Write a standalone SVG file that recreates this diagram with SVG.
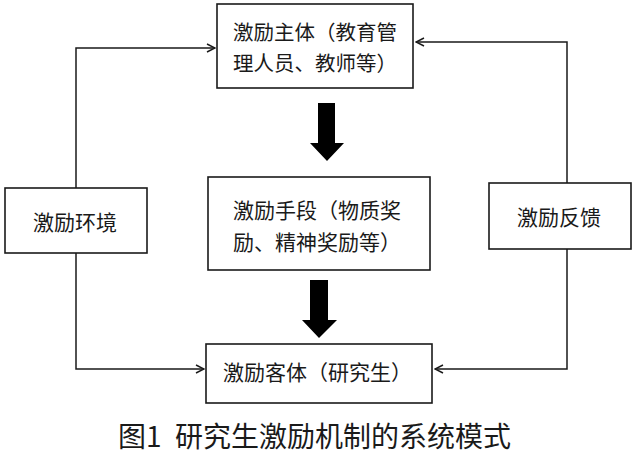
<svg xmlns="http://www.w3.org/2000/svg" width="640" height="456" viewBox="0 0 640 456">
<style>
.box{fill:#fff;stroke:#1a1a1a;stroke-width:1.6}
.t{font-family:"Noto Sans CJK SC","Noto Sans",sans-serif;font-size:21px;fill:#1a1a1a}
.ln{fill:none;stroke:#1a1a1a;stroke-width:1.5}
.fat{fill:#000}
</style>
<defs>
<marker id="ah" markerWidth="10" markerHeight="10" refX="9" refY="5" orient="auto" markerUnits="userSpaceOnUse">
<path d="M1,1 L9,5 L1,9" fill="none" stroke="#1a1a1a" stroke-width="1.5"/>
</marker>
</defs>
<rect width="640" height="456" fill="#fff"/>
<g id="connectors">
<polyline class="ln" points="76,188 76,48 215,48" marker-end="url(#ah)"/>
<polyline class="ln" points="76,253 76,369 204,369" marker-end="url(#ah)"/>
<polyline class="ln" points="567,183 567,42 416,42" marker-end="url(#ah)"/>
<polyline class="ln" points="567,249 567,369 435,369" marker-end="url(#ah)"/>
<polygon class="fat" points="318,103 335,103 335,143 344,143 327,161 310,143 318,143"/>
<polygon class="fat" points="310,280 328,280 328,320 337,320 319,338 302,320 310,320"/>
</g>
<g id="subject">
<rect class="box" x="217" y="4" width="196" height="84"/>
<text class="t" x="233" y="40" style="font-size:20.5px">激励主体（教育管</text>
<text class="t" x="233" y="71" style="font-size:20.5px">理人员、教师等）</text>
</g>
<g id="means">
<rect class="box" x="208" y="177" width="222" height="93"/>
<text class="t" x="233" y="218">激励手段（物质奖</text>
<text class="t" x="233" y="250">励、精神奖励等）</text>
</g>
<g id="environment">
<rect class="box" x="5" y="188" width="142" height="65"/>
<text class="t" x="33" y="230">激励环境</text>
</g>
<g id="feedback">
<rect class="box" x="489" y="183" width="142" height="66"/>
<text class="t" x="517" y="225">激励反馈</text>
</g>
<g id="object">
<rect class="box" x="206" y="344" width="226" height="59"/>
<text class="t" x="223" y="380">激励客体（研究生）</text>
</g>
<text class="t" y="447" style="font-size:28px"><tspan x="118">图1</tspan><tspan x="175">研究生激励机制的系统模式</tspan></text>
</svg>
